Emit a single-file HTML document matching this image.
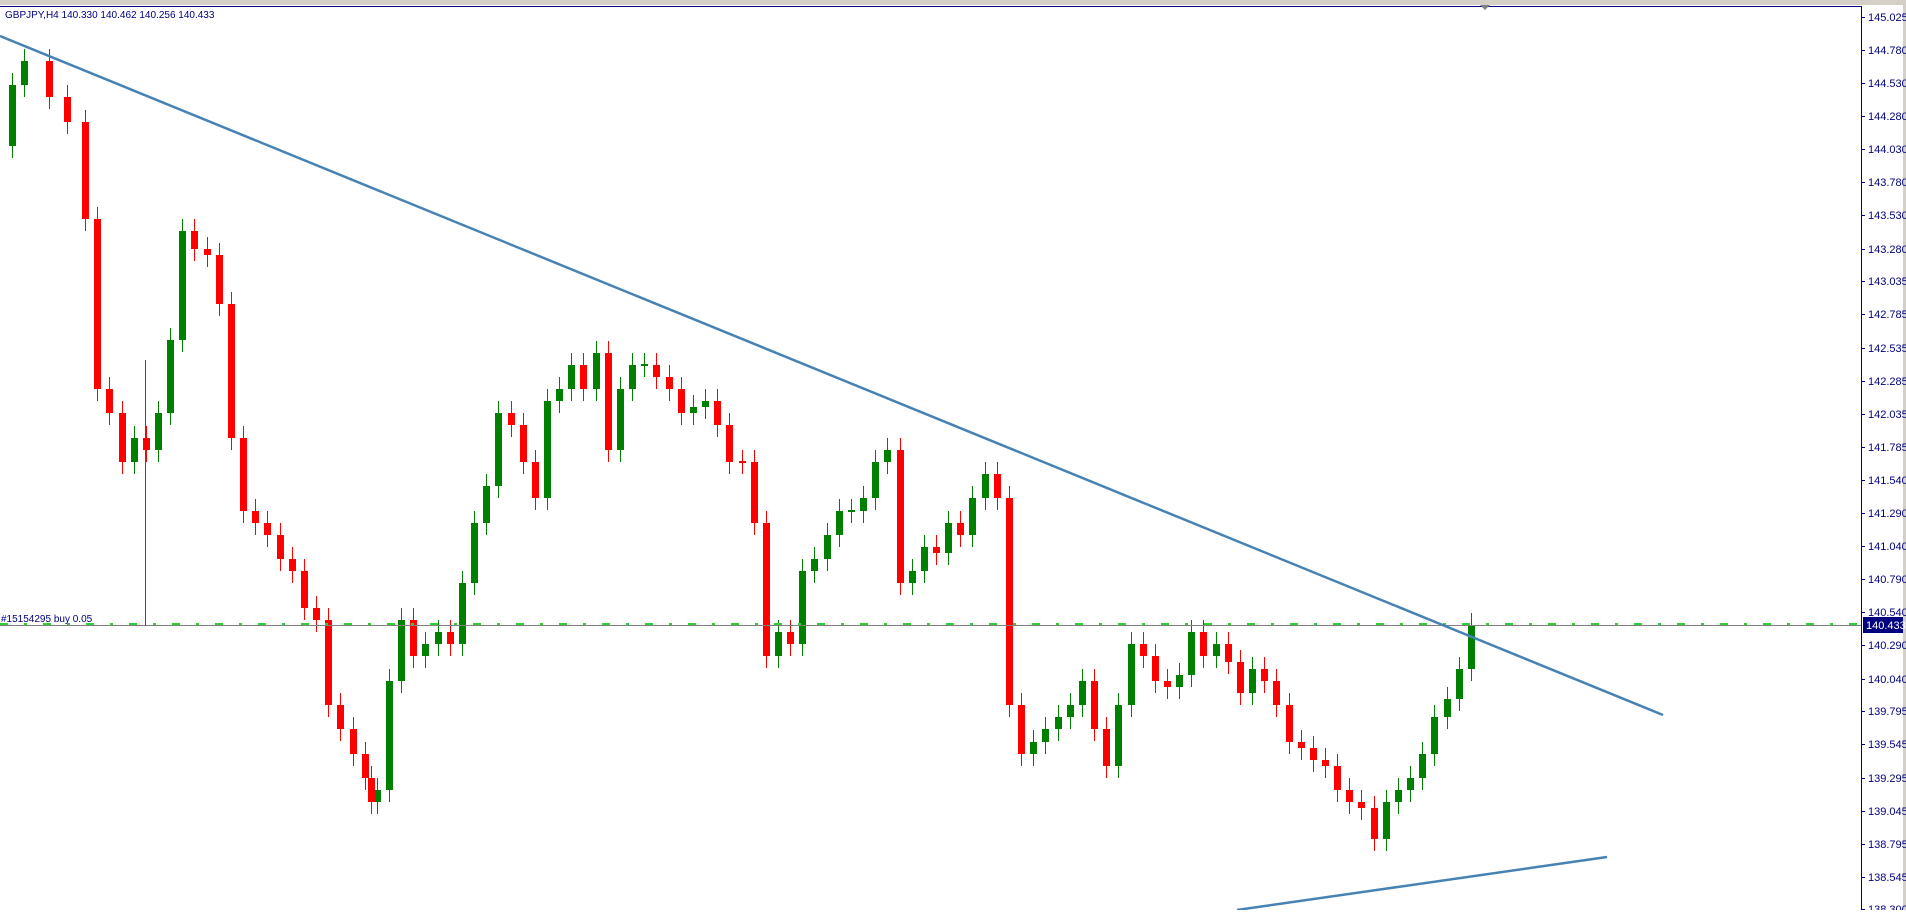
<!DOCTYPE html>
<html><head><meta charset="utf-8"><style>
html,body{margin:0;padding:0;background:#fff;overflow:hidden}
svg text{font-family:"Liberation Sans",sans-serif;font-size:11px;fill:#000080}
.G{fill:#008000}.R{fill:#ff0000}
.wg{stroke:#008000;stroke-width:1;fill:none}.wr{stroke:#ff0000;stroke-width:1;fill:none}
</style></head><body>
<svg width="1906" height="910" xmlns="http://www.w3.org/2000/svg">
<rect x="0" y="0" width="1906" height="5" fill="#d4d0c8"/>
<rect x="1903" y="0" width="3" height="910" fill="#d4d0c8"/>
<line x1="0" y1="6.5" x2="1861" y2="6.5" stroke="#000080"/>
<line x1="1861.5" y1="6" x2="1861.5" y2="910" stroke="#000080"/>
<polygon points="1480,5 1490,5 1485,10" fill="#808080"/>
<g stroke="#000080">
<line x1="1861" y1="17.5" x2="1865" y2="17.5"/><line x1="1861" y1="50.5" x2="1865" y2="50.5"/><line x1="1861" y1="83.5" x2="1865" y2="83.5"/><line x1="1861" y1="116.5" x2="1865" y2="116.5"/><line x1="1861" y1="149.5" x2="1865" y2="149.5"/><line x1="1861" y1="182.5" x2="1865" y2="182.5"/><line x1="1861" y1="215.5" x2="1865" y2="215.5"/><line x1="1861" y1="249.5" x2="1865" y2="249.5"/><line x1="1861" y1="281.5" x2="1865" y2="281.5"/><line x1="1861" y1="314.5" x2="1865" y2="314.5"/><line x1="1861" y1="348.5" x2="1865" y2="348.5"/><line x1="1861" y1="381.5" x2="1865" y2="381.5"/><line x1="1861" y1="414.5" x2="1865" y2="414.5"/><line x1="1861" y1="447.5" x2="1865" y2="447.5"/><line x1="1861" y1="480.5" x2="1865" y2="480.5"/><line x1="1861" y1="513.5" x2="1865" y2="513.5"/><line x1="1861" y1="546.5" x2="1865" y2="546.5"/><line x1="1861" y1="579.5" x2="1865" y2="579.5"/><line x1="1861" y1="612.5" x2="1865" y2="612.5"/><line x1="1861" y1="645.5" x2="1865" y2="645.5"/><line x1="1861" y1="679.5" x2="1865" y2="679.5"/><line x1="1861" y1="711.5" x2="1865" y2="711.5"/><line x1="1861" y1="744.5" x2="1865" y2="744.5"/><line x1="1861" y1="778.5" x2="1865" y2="778.5"/><line x1="1861" y1="811.5" x2="1865" y2="811.5"/><line x1="1861" y1="844.5" x2="1865" y2="844.5"/><line x1="1861" y1="877.5" x2="1865" y2="877.5"/><line x1="1861" y1="909.5" x2="1865" y2="909.5"/>
</g>
<text x="1868" y="21">145.025</text><text x="1868" y="54">144.780</text><text x="1868" y="87">144.530</text><text x="1868" y="120">144.280</text><text x="1868" y="153">144.030</text><text x="1868" y="186">143.780</text><text x="1868" y="219">143.530</text><text x="1868" y="253">143.280</text><text x="1868" y="285">143.035</text><text x="1868" y="318">142.785</text><text x="1868" y="352">142.535</text><text x="1868" y="385">142.285</text><text x="1868" y="418">142.035</text><text x="1868" y="451">141.785</text><text x="1868" y="484">141.540</text><text x="1868" y="517">141.290</text><text x="1868" y="550">141.040</text><text x="1868" y="583">140.790</text><text x="1868" y="616">140.540</text><text x="1868" y="649">140.290</text><text x="1868" y="683">140.040</text><text x="1868" y="715">139.795</text><text x="1868" y="748">139.545</text><text x="1868" y="782">139.295</text><text x="1868" y="815">139.045</text><text x="1868" y="848">138.795</text><text x="1868" y="881">138.545</text><text x="1868" y="913">138.300</text>

<path class="wg" d="M12.5 73V158M24.5 49V97M134.5 426V474M158.5 401V462M170.5 328V425M182.5 219V352M377.5 778V814M389.5 669V802M401.5 608V693M425.5 632V668M438.5 620V656M462.5 571V656M474.5 511V595M486.5 474V535M498.5 401V498M547.5 389V510M559.5 377V413M571.5 353V401M596.5 341V401M620.5 377V462M632.5 353V401M644.5 353V377M693.5 395V425M705.5 389V419M778.5 620V668M802.5 559V656M814.5 547V583M827.5 523V571M839.5 499V547M851.5 499V523M863.5 486V523M875.5 450V510M887.5 438V474M912.5 559V595M924.5 535V583M948.5 511V565M972.5 486V547M985.5 462V510M1033.5 730V766M1045.5 717V754M1058.5 705V741M1070.5 693V729M1082.5 669V717M1118.5 693V778M1131.5 632V717M1179.5 663V699M1191.5 620V687M1216.5 632V668M1252.5 657V705M1386.5 790V851M1398.5 778V814M1410.5 766V802M1422.5 742V790M1434.5 705V766M1447.5 687V729M1459.5 657V711M1471.5 613V681M145.5 360V625"/>
<path class="wr" d="M49.5 49V109M67.5 85V134M85.5 110V231M97.5 207V401M109.5 377V425M122.5 401V474M146.5 426V462M194.5 219V261M207.5 237V267M219.5 243V316M231.5 292V450M243.5 426V523M255.5 499V535M267.5 511V547M280.5 523V571M292.5 547V583M304.5 559V620M316.5 596V632M328.5 608V717M340.5 693V741M353.5 717V766M365.5 742V790M371.5 766V814M413.5 608V668M450.5 620V656M511.5 401V437M523.5 413V474M535.5 450V510M583.5 353V401M608.5 341V462M656.5 353V389M669.5 365V401M681.5 377V425M717.5 389V437M729.5 413V474M742.5 450V474M754.5 450V535M766.5 511V668M790.5 620V656M900.5 438V595M936.5 535V565M960.5 511V547M997.5 462V510M1009.5 486V717M1021.5 693V766M1094.5 669V741M1106.5 717V778M1143.5 632V668M1155.5 644V693M1167.5 669V699M1203.5 620V668M1228.5 632V674M1240.5 650V705M1264.5 657V693M1276.5 669V717M1289.5 693V754M1301.5 730V760M1313.5 736V772M1325.5 748V778M1337.5 754V802M1349.5 778V814M1361.5 790V820M1374.5 796V851"/>
<path class="G" d="M9 85h7v61h-7zM21 61h7v24h-7zM131 438h7v24h-7zM155 413h7v37h-7zM167 340h7v73h-7zM179 231h7v109h-7zM374 790h7v12h-7zM386 681h7v109h-7zM398 620h7v61h-7zM422 644h7v12h-7zM435 632h7v12h-7zM459 583h7v61h-7zM471 523h7v60h-7zM483 486h7v37h-7zM495 413h7v73h-7zM544 401h7v97h-7zM556 389h7v12h-7zM568 365h7v24h-7zM593 353h7v36h-7zM617 389h7v61h-7zM629 365h7v24h-7zM641 364h7v2h-7zM690 407h7v6h-7zM702 401h7v6h-7zM775 632h7v24h-7zM799 571h7v73h-7zM811 559h7v12h-7zM824 535h7v24h-7zM836 511h7v24h-7zM848 510h7v2h-7zM860 498h7v13h-7zM872 462h7v36h-7zM884 450h7v12h-7zM909 571h7v12h-7zM921 547h7v24h-7zM945 523h7v30h-7zM969 498h7v37h-7zM982 474h7v24h-7zM1030 742h7v12h-7zM1042 729h7v13h-7zM1055 717h7v12h-7zM1067 705h7v12h-7zM1079 681h7v24h-7zM1115 705h7v61h-7zM1128 644h7v61h-7zM1176 675h7v12h-7zM1188 632h7v43h-7zM1213 644h7v12h-7zM1249 669h7v24h-7zM1383 802h7v37h-7zM1395 790h7v12h-7zM1407 778h7v12h-7zM1419 754h7v24h-7zM1431 717h7v37h-7zM1444 699h7v18h-7zM1456 669h7v30h-7zM1468 625h7v44h-7z"/>
<path class="R" d="M46 61h7v36h-7zM64 97h7v25h-7zM82 122h7v97h-7zM94 219h7v170h-7zM106 389h7v24h-7zM119 413h7v49h-7zM143 438h7v12h-7zM191 231h7v18h-7zM204 249h7v6h-7zM216 255h7v49h-7zM228 304h7v134h-7zM240 438h7v73h-7zM252 511h7v12h-7zM264 523h7v12h-7zM277 535h7v24h-7zM289 559h7v12h-7zM301 571h7v37h-7zM313 608h7v12h-7zM325 620h7v85h-7zM337 705h7v24h-7zM350 729h7v25h-7zM362 754h7v24h-7zM368 778h7v24h-7zM410 620h7v36h-7zM447 632h7v12h-7zM508 413h7v12h-7zM520 425h7v37h-7zM532 462h7v36h-7zM580 365h7v24h-7zM605 353h7v97h-7zM653 365h7v12h-7zM666 377h7v12h-7zM678 389h7v24h-7zM714 401h7v24h-7zM726 425h7v37h-7zM739 461h7v2h-7zM751 462h7v61h-7zM763 523h7v133h-7zM787 632h7v12h-7zM897 450h7v133h-7zM933 547h7v6h-7zM957 523h7v12h-7zM994 474h7v24h-7zM1006 498h7v207h-7zM1018 705h7v49h-7zM1091 681h7v48h-7zM1103 729h7v37h-7zM1140 644h7v12h-7zM1152 656h7v25h-7zM1164 681h7v6h-7zM1200 632h7v24h-7zM1225 644h7v18h-7zM1237 662h7v31h-7zM1261 669h7v12h-7zM1273 681h7v24h-7zM1286 705h7v37h-7zM1298 742h7v6h-7zM1310 748h7v12h-7zM1322 760h7v6h-7zM1334 766h7v24h-7zM1346 790h7v12h-7zM1358 802h7v6h-7zM1371 808h7v31h-7z"/>

<line x1="0" y1="625.5" x2="1861" y2="625.5" stroke="#808080"/>
<line x1="0" y1="624" x2="1861" y2="624" stroke="#32cd32" stroke-width="2" stroke-dasharray="8,16,3,16"/>
<text x="1" y="622" style="font-size:10px">#15154295 buy 0.05</text>
<line x1="0" y1="36" x2="1663" y2="715" stroke="#4682b4" stroke-width="2.5"/>
<line x1="1237" y1="910" x2="1607" y2="857" stroke="#4682b4" stroke-width="2.5"/>
<text x="5" y="18" style="font-size:10px">GBPJPY,H4  140.330 140.462 140.256 140.433</text>
<rect x="1863" y="617" width="40" height="16" fill="#000080"/>
<text x="1866" y="629" style="fill:#fff">140.433</text>
</svg>
</body></html>
